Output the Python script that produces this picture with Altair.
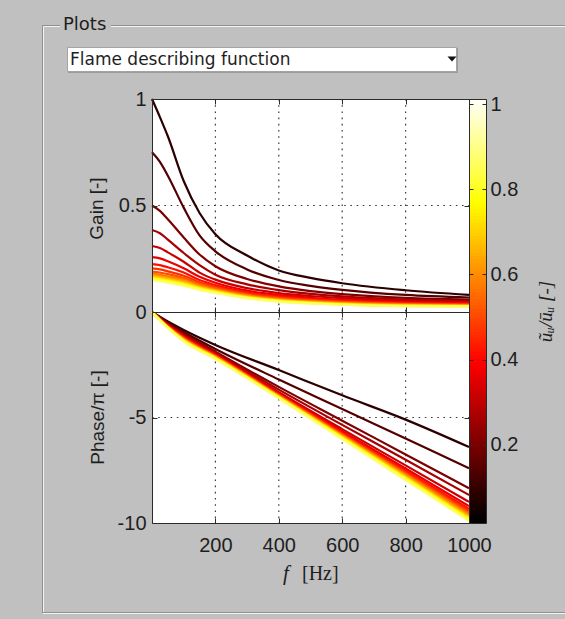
import altair as alt
import numpy as np
import pandas as pd

# ---------------------------------------------------------------------------
# Flame describing function: gain and phase for several forcing amplitudes
# ---------------------------------------------------------------------------
levels = [0.08, 0.14, 0.20, 0.26, 0.31, 0.36, 0.41, 0.46,
          0.51, 0.56, 0.61, 0.66, 0.71, 0.76, 0.81, 0.86]

freq_gain = [0, 25, 50, 100, 150, 200, 300, 400, 500, 600, 800, 1000]
gain = [
    [1.000, 0.915, 0.825, 0.615, 0.465, 0.365, 0.265, 0.195, 0.160, 0.135, 0.102, 0.080],
    [0.750, 0.705, 0.640, 0.490, 0.360, 0.285, 0.200, 0.150, 0.123, 0.104, 0.080, 0.068],
    [0.500, 0.475, 0.435, 0.350, 0.270, 0.215, 0.155, 0.120, 0.098, 0.084, 0.066, 0.058],
    [0.385, 0.370, 0.340, 0.277, 0.220, 0.175, 0.130, 0.103, 0.085, 0.073, 0.058, 0.052],
    [0.310, 0.300, 0.280, 0.236, 0.185, 0.152, 0.112, 0.089, 0.075, 0.065, 0.052, 0.047],
    [0.258, 0.252, 0.238, 0.205, 0.165, 0.137, 0.100, 0.080, 0.067, 0.058, 0.047, 0.043],
    [0.225, 0.220, 0.210, 0.185, 0.150, 0.126, 0.092, 0.073, 0.061, 0.053, 0.043, 0.039],
    [0.205, 0.200, 0.191, 0.170, 0.140, 0.118, 0.086, 0.068, 0.057, 0.049, 0.040, 0.036],
    [0.190, 0.185, 0.178, 0.160, 0.132, 0.112, 0.082, 0.064, 0.053, 0.046, 0.037, 0.034],
    [0.180, 0.175, 0.168, 0.152, 0.126, 0.107, 0.078, 0.061, 0.050, 0.043, 0.035, 0.032],
    [0.173, 0.168, 0.161, 0.146, 0.121, 0.103, 0.075, 0.058, 0.048, 0.041, 0.033, 0.030],
    [0.167, 0.162, 0.155, 0.140, 0.117, 0.100, 0.072, 0.056, 0.046, 0.039, 0.031, 0.029],
    [0.162, 0.157, 0.150, 0.135, 0.113, 0.097, 0.070, 0.054, 0.044, 0.037, 0.030, 0.028],
    [0.158, 0.153, 0.146, 0.131, 0.110, 0.094, 0.068, 0.052, 0.042, 0.036, 0.029, 0.027],
    [0.154, 0.149, 0.142, 0.127, 0.107, 0.092, 0.066, 0.050, 0.041, 0.035, 0.028, 0.026],
    [0.150, 0.145, 0.138, 0.123, 0.104, 0.090, 0.064, 0.049, 0.040, 0.034, 0.027, 0.025],
]

freq_phase = [0, 50, 100, 200, 400, 600, 800, 1000]
phase = [
    [0, -0.45, -0.85, -1.56, -2.75, -3.95, -5.10, -6.40],
    [0, -0.50, -0.95, -1.75, -3.20, -4.60, -6.00, -7.40],
    [0, -0.55, -1.02, -1.88, -3.55, -5.15, -6.75, -8.35],
    [0, -0.58, -1.07, -1.93, -3.68, -5.35, -7.00, -8.67],
    [0, -0.61, -1.12, -1.98, -3.80, -5.55, -7.27, -9.00],
    [0, -0.63, -1.16, -2.02, -3.86, -5.65, -7.42, -9.20],
    [0, -0.65, -1.19, -2.05, -3.90, -5.72, -7.52, -9.33],
    [0, -0.67, -1.22, -2.07, -3.93, -5.77, -7.59, -9.43],
    [0, -0.69, -1.25, -2.09, -3.95, -5.81, -7.65, -9.51],
    [0, -0.70, -1.27, -2.11, -3.97, -5.84, -7.70, -9.58],
    [0, -0.71, -1.29, -2.13, -3.99, -5.87, -7.75, -9.65],
    [0, -0.72, -1.31, -2.15, -4.01, -5.90, -7.80, -9.71],
    [0, -0.73, -1.33, -2.17, -4.03, -5.93, -7.84, -9.76],
    [0, -0.74, -1.35, -2.19, -4.05, -5.96, -7.88, -9.81],
    [0, -0.75, -1.37, -2.21, -4.07, -5.99, -7.92, -9.86],
    [0, -0.76, -1.39, -2.23, -4.09, -6.02, -7.96, -9.90],
]

x_ticks = [200, 400, 600, 800, 1000]
x_grid = [200, 400, 600, 800]
gain_ticks = [0, 0.5, 1]
gain_grid = [0.5]
phase_ticks = [-10, -5, 0]
phase_grid = [-5]
cbar_ticks = [0.2, 0.4, 0.6, 0.8, 1]
cbar_limits = [0.016, 1.012]

# ---------------------------------------------------------------------------
# layout and style
# ---------------------------------------------------------------------------
W, H = 317, 424          # both axes stacked
H_GAIN = 213             # height of the gain axes
CB_W = 17                # colour bar width
PAD = {"left": 152, "top": 99, "right": 96, "bottom": 96}

PANEL = "#c0c0c0"
AXIS_COLOR = "#2b2b2b"
TEXT_COLOR = "#1e1e1e"
GRID_COLOR = "#3a3a3a"
SANS = "Liberation Sans"
SERIF = "Liberation Serif"

x_scale = alt.Scale(domain=[0, 1000], range=[0, W], nice=False, zero=False)
gain_scale = alt.Scale(domain=[0, 1], range=[H_GAIN, 0], nice=False)
phase_scale = alt.Scale(domain=[-10, 0], range=[H, H_GAIN], nice=False)
cbar_scale = alt.Scale(domain=cbar_limits, range=[H, 0], nice=False, zero=False)
lo, hi = cbar_limits
hot = alt.Scale(
    domain=[lo, lo + 0.375 * (hi - lo), lo + 0.75 * (hi - lo), hi],
    range=["#000000", "#ff0000", "#ffff00", "#ffffff"],
    interpolate="rgb",
)

gain_df = pd.DataFrame(
    [{"f": f, "value": v, "amp": a}
     for a, row in zip(levels, gain) for f, v in zip(freq_gain, row)]
)
phase_df = pd.DataFrame(
    [{"f": f, "value": v, "amp": a}
     for a, row in zip(levels, phase) for f, v in zip(freq_phase, row)]
)
one = pd.DataFrame({"k": [0]})

LABEL_EXPR = "datum.value + ''"


def axis(orient, offset=0, values=None, ticks=False, labels=False, domain=False, **kw):
    opts = dict(orient=orient, offset=offset, ticks=ticks, labels=labels,
                domain=domain, grid=False, zindex=1,
                tickSize=5 if ticks else 0, labelExpr=LABEL_EXPR)
    if values is not None:
        opts["values"] = values
    if "title" not in kw:
        opts["title"] = None
    opts.update(kw)
    return alt.Axis(**opts)


def x_guide(ax):
    return alt.Chart(pd.DataFrame({"f": x_ticks})).mark_point(opacity=0).encode(
        x=alt.X("f:Q", scale=x_scale, axis=ax), y=alt.value(0))


def y_guide(values, scale, ax):
    return alt.Chart(pd.DataFrame({"v": values})).mark_point(opacity=0).encode(
        x=alt.value(0), y=alt.Y("v:Q", scale=scale, axis=ax))


def hline(x1, x2, y, color):
    return alt.Chart(one).mark_rule(color=color, strokeWidth=1).encode(
        x=alt.value(x1), x2=alt.value(x2), y=alt.value(y))


def vline(x, y1, y2, color):
    return alt.Chart(one).mark_rule(color=color, strokeWidth=1).encode(
        x=alt.value(x), y=alt.value(y1), y2=alt.value(y2))


# ---------------------------------------------------------------------------
# panel chrome: group box and popup menu
# ---------------------------------------------------------------------------
box_dark, box_light = "#8f8f8f", "#f4f4f4"
chrome = [
    vline(-109.5, -73.5, 514.5, box_dark), vline(-108.5, -72.5, 513.5, box_light),
    hline(-109.5, -92, -73.5, box_dark), hline(-108.5, -92, -72.5, box_light),
    hline(-41, 413, -73.5, box_dark), hline(-41, 413, -72.5, box_light),
    hline(-109.5, 413, 513.5, box_dark), hline(-109.5, 413, 514.5, box_light),
    alt.Chart(one).mark_text(text="Plots", font="DejaVu Sans", fontSize=18,
                             align="left", baseline="alphabetic", color=TEXT_COLOR)
    .encode(x=alt.value(-89), y=alt.value(-69)),
    alt.Chart(one).mark_rect(fill="white", stroke="#a3a3a3", strokeWidth=1)
    .encode(x=alt.value(-84.5), x2=alt.value(304.5), y=alt.value(-51.5), y2=alt.value(-27.5)),
    hline(-84, 305, -26.5, "#9c9c9c"),
    vline(305.5, -51, -26, "#9c9c9c"),
    alt.Chart(one).mark_text(text="Flame describing function", font="DejaVu Sans",
                             fontSize=17, align="left", baseline="alphabetic",
                             color=TEXT_COLOR)
    .encode(x=alt.value(-82), y=alt.value(-34)),
    alt.Chart(one).mark_point(shape="M-1,-0.55L1,-0.55L0,0.55Z", size=81,
                              filled=True, color="#111111", opacity=1)
    .encode(x=alt.value(300), y=alt.value(-40)),
]

# ---------------------------------------------------------------------------
# grids
# ---------------------------------------------------------------------------
dash = dict(color=GRID_COLOR, strokeDash=[1.6, 4.6], strokeWidth=1.2)
grids = [
    alt.Chart(pd.DataFrame({"f": x_grid})).mark_rule(**dash).encode(
        x=alt.X("f:Q", scale=x_scale, axis=None), y=alt.value(0), y2=alt.value(H_GAIN)),
    alt.Chart(pd.DataFrame({"f": x_grid})).mark_rule(**dash).encode(
        x=alt.X("f:Q", scale=x_scale, axis=None), y=alt.value(H_GAIN), y2=alt.value(H)),
    alt.Chart(pd.DataFrame({"v": gain_grid})).mark_rule(**dash).encode(
        y=alt.Y("v:Q", scale=gain_scale, axis=None), x=alt.value(0), x2=alt.value(W)),
    alt.Chart(pd.DataFrame({"v": phase_grid})).mark_rule(**dash).encode(
        y=alt.Y("v:Q", scale=phase_scale, axis=None), x=alt.value(0), x2=alt.value(W)),
]

# ---------------------------------------------------------------------------
# curves
# ---------------------------------------------------------------------------
title_style = dict(titleFont=SANS, titleFontSize=19, titleFontWeight="normal",
                   titleColor=TEXT_COLOR, titleAngle=270, titleAlign="center",
                   titleBaseline="middle")

gain_lines = alt.Chart(gain_df).mark_line(strokeWidth=2.2, interpolate="monotone").encode(
    x=alt.X("f:Q", scale=x_scale, axis=axis("bottom", -H, x_ticks, ticks=True, domain=True)),
    y=alt.Y("value:Q", scale=gain_scale,
            axis=axis("left", 0, gain_ticks, labels=True, domain=True, labelPadding=6,
                      title="Gain [-]", titleX=-56, titleY=109, **title_style)),
    color=alt.Color("amp:Q", scale=hot, legend=None),
    detail="amp:N",
)

phase_lines = alt.Chart(phase_df).mark_line(strokeWidth=2.2, interpolate="monotone").encode(
    x=alt.X("f:Q", scale=x_scale,
            axis=axis("bottom", 0, x_ticks, labels=True, domain=True, labelPadding=12)),
    y=alt.Y("value:Q", scale=phase_scale,
            axis=axis("left", 0, phase_ticks[:-1], labels=True, domain=True, labelPadding=6,
                      title="Phase/π [-]", titleX=-55, titleY=318, **title_style)),
    color=alt.Color("amp:Q", scale=hot, legend=None),
    detail="amp:N",
)

# ---------------------------------------------------------------------------
# colour bar: each band overlaps the next one slightly so no seams show
# ---------------------------------------------------------------------------
edges = np.linspace(lo, hi, 129)
step = edges[1] - edges[0]
cbar_df = pd.DataFrame({"lo": edges[:-1],
                        "hi": np.minimum(edges[1:] + 0.6 * step, hi),
                        "mid": (edges[:-1] + edges[1:]) / 2})
colorbar = alt.Chart(cbar_df).mark_rect(strokeWidth=0).encode(
    x=alt.value(W), x2=alt.value(W + CB_W),
    y=alt.Y("lo:Q", scale=cbar_scale,
            axis=axis("right", CB_W, cbar_ticks, labels=True, labelPadding=4,
                      title="ũᵤ/ūᵤ [-]", titleX=59, titleY=212,
                      titleFont=SERIF, titleFontSize=19, titleFontWeight="normal",
                      titleFontStyle="italic", titleColor=TEXT_COLOR, titleAngle=270,
                      titleAlign="center", titleBaseline="middle")),
    y2="hi:Q",
    color=alt.Color("mid:Q", scale=hot, legend=None),
    order=alt.Order("lo:Q", sort="descending"),
)
cbar_frame = alt.Chart(one).mark_rect(fillOpacity=0, stroke=AXIS_COLOR, strokeWidth=1).encode(
    x=alt.value(W + 0.5), x2=alt.value(W + CB_W + 0.5), y=alt.value(0.5), y2=alt.value(H + 0.5))

# ---------------------------------------------------------------------------
# remaining axis lines and inward tick marks
# ---------------------------------------------------------------------------
guides = [
    x_guide(axis("top", -H, x_ticks, ticks=True)),
    x_guide(axis("top", -H_GAIN, x_ticks, ticks=True, domain=True)),
    x_guide(axis("bottom", -(H - H_GAIN), x_ticks, ticks=True)),
    y_guide(gain_ticks, gain_scale, axis("right", -W, gain_ticks, ticks=True)),
    y_guide(gain_ticks, gain_scale, axis("left", -W, gain_ticks, ticks=True, domain=True)),
    y_guide(phase_ticks, phase_scale, axis("right", -W, phase_ticks, ticks=True)),
    y_guide(phase_ticks, phase_scale, axis("left", -W, phase_ticks, ticks=True, domain=True)),
    y_guide(cbar_ticks, cbar_scale, axis("right", 0, cbar_ticks, ticks=True, tickSize=4)),
    y_guide(cbar_ticks, cbar_scale, axis("left", -(W + CB_W), cbar_ticks, ticks=True, tickSize=4)),
]

# frequency axis title: italic f followed by the unit
x_title = [
    alt.Chart(one).mark_text(text="f", font=SERIF, fontStyle="italic", fontSize=21,
                             align="left", baseline="alphabetic", color=TEXT_COLOR)
    .encode(x=alt.value(131), y=alt.value(481)),
    alt.Chart(one).mark_text(text="[Hz]", font=SERIF, fontSize=20,
                             align="left", baseline="alphabetic", color=TEXT_COLOR)
    .encode(x=alt.value(150), y=alt.value(481)),
]

chart = (
    alt.layer(*chrome, *grids, gain_lines, phase_lines, colorbar, cbar_frame,
              *guides, *x_title)
    .resolve_scale(x="independent", y="independent")
    .resolve_axis(x="independent", y="independent")
    .properties(width=W, height=H, padding=PAD,
                autosize=alt.AutoSizeParams(type="none"), background=PANEL)
    .configure_view(stroke="transparent", fill="white")
    .configure_axis(labelFont=SANS, labelFontSize=20, labelColor=TEXT_COLOR,
                    domainColor=AXIS_COLOR, tickColor=AXIS_COLOR, domainWidth=1,
                    tickWidth=1, labelFlush=False, labelOverlap=False)
)

chart.save("out.html", embed_options={"renderer": "svg", "actions": False})
